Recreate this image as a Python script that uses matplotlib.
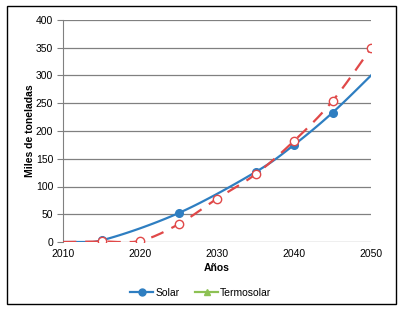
import numpy as np
import matplotlib
matplotlib.use("Agg")
import matplotlib.pyplot as plt
from matplotlib.lines import Line2D
from matplotlib.patches import Rectangle

plt.rcParams['font.family'] = ['Liberation Sans', 'DejaVu Sans']

solar_years = [2010, 2015, 2025, 2035, 2040, 2045, 2050]
solar_vals = [0, 3, 52, 126, 175, 233, 300]
solar_marked = [1, 2, 3, 4, 5]

termo_years = [2010, 2015, 2020, 2025, 2030, 2035, 2040, 2045, 2050]
termo_vals = [0, 1, 2, 32, 78, 122, 182, 254, 349]
termo_marked = [1, 2, 3, 4, 5, 6, 7, 8]

x_ticks = [2010, 2020, 2030, 2040, 2050]
y_ticks = [0, 50, 100, 150, 200, 250, 300, 350, 400]


def smooth(xs, ys, n=20):
    xs = np.asarray(xs, float); ys = np.asarray(ys, float)
    px = np.concatenate([[xs[0]], xs, [xs[-1]]])
    py = np.concatenate([[ys[0]], ys, [ys[-1]]])
    ox, oy = [], []
    for i in range(1, len(px) - 2):
        p0 = np.array([px[i - 1], py[i - 1]]); p1 = np.array([px[i], py[i]])
        p2 = np.array([px[i + 1], py[i + 1]]); p3 = np.array([px[i + 2], py[i + 2]])
        c1 = p1 + (p2 - p0) / 6.0
        c2 = p2 - (p3 - p1) / 6.0
        t = np.linspace(0, 1, n)[:, None]
        b = (1 - t) ** 3 * p1 + 3 * (1 - t) ** 2 * t * c1 + 3 * (1 - t) * t ** 2 * c2 + t ** 3 * p2
        ox.extend(b[:, 0]); oy.extend(np.maximum(b[:, 1], 0))
    return ox, oy


fig = plt.figure(figsize=(4.02, 3.11), dpi=100)
ax = fig.add_axes([63 / 402, 1 - 242 / 311, (371 - 63) / 402, (242 - 20) / 311])

blue = '#2E7EC1'
red = '#E04848'

sx, sy = smooth(solar_years, solar_vals)
ax.plot(sx, sy, color=blue, lw=1.6, zorder=3)
ax.plot([solar_years[i] for i in solar_marked], [solar_vals[i] for i in solar_marked],
        ls='none', marker='o', ms=5.5, color=blue, zorder=4)

tx, ty = smooth(termo_years, termo_vals)
ax.plot(tx, ty, color=red, lw=1.6, dashes=(6, 4), zorder=5)
ax.plot([termo_years[i] for i in termo_marked], [termo_vals[i] for i in termo_marked],
        ls='none', marker='o', ms=6, mfc='white', mec=red, mew=1.0, zorder=6)

ax.set_xlim(2010, 2050)
ax.set_ylim(0, 400)
ax.set_xticks(x_ticks)
ax.set_yticks(y_ticks)
ax.tick_params(axis='x', length=0, pad=5, labelsize=7.5)
ax.tick_params(axis='y', length=4, color='#808080', pad=3, labelsize=7.5)
ax.grid(axis='y', color='#808080', lw=0.9)
ax.set_axisbelow(True)
for s in ['top', 'right', 'bottom']:
    ax.spines[s].set_visible(False)
ax.spines['left'].set_color('#808080')
ax.set_xlabel('Años', fontsize=7.5, fontweight='bold', labelpad=3)
ax.set_ylabel('Miles de toneladas', fontsize=7.5, fontweight='bold', labelpad=1)

handles = [Line2D([], [], color=blue, lw=1.6, marker='o', ms=5),
           Line2D([], [], color='#8DC153', lw=1.6, marker='^', ms=5)]
fig.legend(handles, ['Solar', 'Termosolar'], loc='center', bbox_to_anchor=(0.5, 1 - 293 / 311),
           ncol=2, frameon=False, fontsize=7.5, handlelength=2.2, handletextpad=0.2,
           columnspacing=1.5)

fig.patches.append(Rectangle((7 / 402, 1 - 304 / 311), (396 - 7) / 402, (304 - 6) / 311,
                             transform=fig.transFigure, fill=False, ec='black', lw=1.0))

fig.savefig('out.png', dpi=100)
